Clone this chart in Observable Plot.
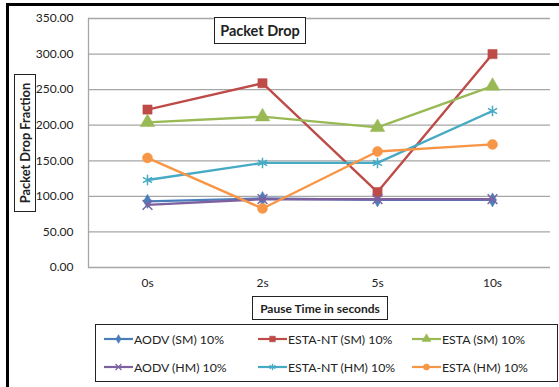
<!DOCTYPE html>
<html>
<head>
<meta charset="utf-8">
<script src="https://cdn.jsdelivr.net/npm/d3@7"></script>
<script src="https://cdn.jsdelivr.net/npm/@observablehq/plot@0.6"></script>
<style>
  html, body { margin: 0; padding: 0; background: #fff; }
  #chart { position: relative; width: 559px; height: 387px; overflow: hidden; font-family: Lato, "Noto Sans", sans-serif; color: #222; }
  #chart svg.plot { position: absolute; left: 0; top: 0; }
  .edge { position: absolute; background: #000; }
  .box { position: absolute; background: #fff; border: 1px solid #222; box-sizing: border-box; font-weight: bold; display: flex; align-items: center; justify-content: center; white-space: nowrap; }
  #legend { position: absolute; left: 95px; top: 324px; width: 463px; height: 58px; border: 1px solid #222; box-sizing: border-box; background: #fff; }
  .item { position: absolute; display: flex; align-items: center; font-size: 12.3px; white-space: nowrap; }
  .item svg { display: block; margin-right: 1px; }
</style>
</head>
<body>
<div id="chart"></div>
<script>
(() => {
// Pause times on the x axis
const pauseTimes = ["0s", "2s", "5s", "10s"];
const yTicks = [0, 50, 100, 150, 200, 250, 300, 350];

// Packet drop fraction per protocol / mobility model
const seriesNames = ["AODV (SM) 10%", "ESTA-NT (SM) 10%", "ESTA (SM) 10%", "AODV (HM) 10%", "ESTA-NT (HM) 10%", "ESTA (HM) 10%"];
const aodvSM   = [93, 97, 95, 95];
const estaNtSM = [222, 259, 106, 300];
const estaSM   = [204, 212, 197, 255];
const aodvHM   = [88, 96, 96, 96];
const estaNtHM = [123, 147, 147, 220];
const estaHM   = [154, 83, 163, 173];

const seriesValues = [aodvSM, estaNtSM, estaSM, aodvHM, estaNtHM, estaHM];
const seriesColors = ["#4a7ebb", "#be4b48", "#98b954", "#7d60a0", "#46aac5", "#f79646"];
const seriesSymbols = ["diamond", "square", "triangle", "times", "asterisk", "circle"];
const filledSymbol = {diamond: true, square: true, triangle: true, circle: true, times: false, asterisk: false};
const symbolSize = {diamond: 4.3, square: 5.2, triangle: 5.4, circle: 5, times: 4.5, asterisk: 5};

const rows = seriesNames.flatMap((name, i) =>
  pauseTimes.map((t, j) => ({series: name, time: t, value: seriesValues[i][j]}))
);

const marks = [
  Plot.ruleY(yTicks, {stroke: "#a6a6a6", strokeWidth: 1.3}),
  Plot.frame({anchor: "left", stroke: "#a6a6a6", strokeWidth: 1.3}),
  Plot.axisY(yTicks, {tickSize: 0, tickPadding: 15, tickFormat: d => d.toFixed(2), fontSize: 12, fill: "#222"}),
  Plot.axisX({tickSize: 0, tickPadding: 11, fontSize: 12, fill: "#222", label: null})
];

seriesNames.forEach((name, i) => {
  const data = rows.filter(d => d.series === name);
  const sym = seriesSymbols[i];
  marks.push(Plot.line(data, {x: "time", y: "value", stroke: seriesColors[i], strokeWidth: 2.4}));
  marks.push(Plot.dot(data, {
    x: "time", y: "value", symbol: () => sym, r: symbolSize[sym],
    fill: filledSymbol[sym] ? seriesColors[i] : "none",
    stroke: seriesColors[i], strokeWidth: filledSymbol[sym] ? 0.5 : 1.5
  }));
});

const plot = Plot.plot({
  width: 559,
  height: 300,
  marginTop: 18,
  marginBottom: 33,
  marginLeft: 88,
  marginRight: 9,
  style: {fontFamily: "Lato, 'Noto Sans', sans-serif", background: "transparent"},
  x: {type: "point", domain: pauseTimes, padding: 0.5, label: null, axis: null},
  y: {domain: [0, 350], label: null, axis: null},
  symbol: {domain: seriesSymbols, range: seriesSymbols},
  marks
});
plot.classList.add("plot");

const chart = document.getElementById("chart");
chart.appendChild(plot);

// outer frame edges
const leftEdge = document.createElement("div");
leftEdge.className = "edge";
Object.assign(leftEdge.style, {left: "6px", top: "3px", width: "2.5px", height: "384px"});
chart.appendChild(leftEdge);
const topEdge = document.createElement("div");
topEdge.className = "edge";
Object.assign(topEdge.style, {left: "6px", top: "3px", width: "553px", height: "2.5px"});
chart.appendChild(topEdge);

// title and axis title boxes
function box(text, l, t, w, h, fs, rotate) {
  const b = document.createElement("div");
  b.className = "box";
  Object.assign(b.style, {left: l + "px", top: t + "px", width: w + "px", height: h + "px", fontSize: fs + "px"});
  const s = document.createElement("span");
  s.textContent = text;
  if (rotate) { s.style.transform = "rotate(-90deg)"; s.style.display = "inline-block"; }
  b.appendChild(s);
  chart.appendChild(b);
}
box("Packet Drop", 214, 17, 92, 27, 14.5);
box("Pause Time in seconds", 252, 296, 136, 24, 12);
box("Packet Drop Fraction", 14, 74, 22, 138, 12.8, true);

// legend
const legend = document.createElement("div");
legend.id = "legend";
chart.appendChild(legend);
const colX = [8, 162, 316];
const rowY = [6, 34];
seriesNames.forEach((name, i) => {
  const item = document.createElement("div");
  item.className = "item";
  item.style.left = colX[i % 3] + "px";
  item.style.top = rowY[Math.floor(i / 3)] + "px";
  const sw = d3.create("svg").attr("width", 29).attr("height", 16);
  sw.append("line").attr("x1", 0).attr("x2", 29).attr("y1", 8).attr("y2", 8)
    .attr("stroke", seriesColors[i]).attr("stroke-width", 2.2);
  const sym = seriesSymbols[i];
  const d3sym = {diamond: d3.symbolDiamond, square: d3.symbolSquare, triangle: d3.symbolTriangle,
                 circle: d3.symbolCircle, times: d3.symbolTimes, asterisk: d3.symbolAsterisk}[sym];
  const r = symbolSize[sym] * 0.62;
  sw.append("path").attr("transform", "translate(14.5,8)")
    .attr("d", d3.symbol(d3sym, Math.PI * r * r)())
    .attr("fill", filledSymbol[sym] ? seriesColors[i] : "none")
    .attr("stroke", seriesColors[i]).attr("stroke-width", filledSymbol[sym] ? 0.5 : 1.2);
  item.appendChild(sw.node());
  const label = document.createElement("span");
  label.textContent = name;
  item.appendChild(label);
  legend.appendChild(item);
});
})();
</script>
</body>
</html>
